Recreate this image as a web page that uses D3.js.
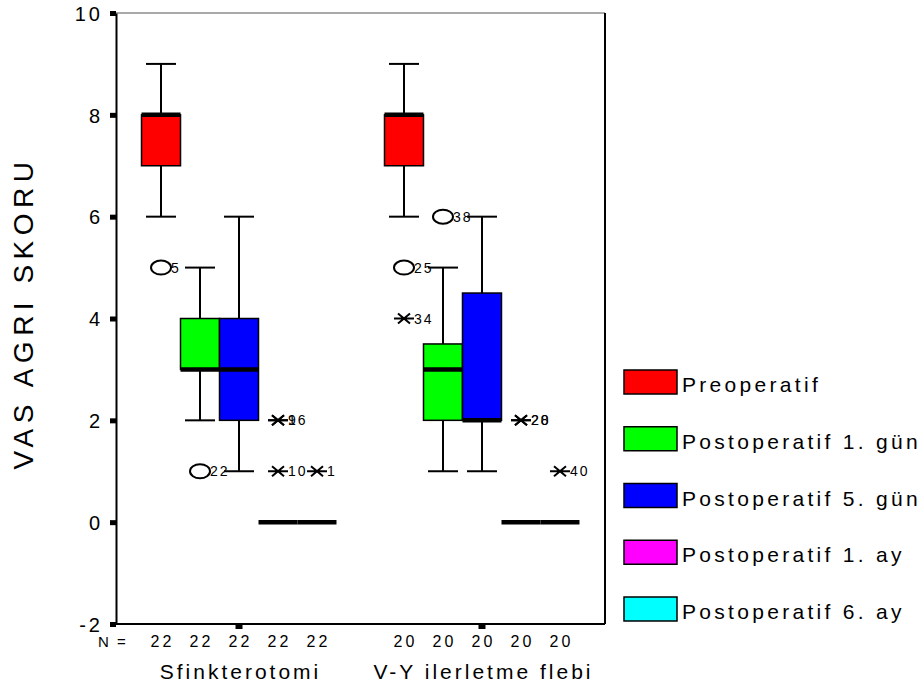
<!DOCTYPE html>
<html>
<head>
<meta charset="utf-8">
<script src="https://cdn.jsdelivr.net/npm/d3@7"></script>
<style>
  body { margin: 0; background: #fff; }
  text { font-family: "Liberation Sans", Arial, sans-serif; fill: #000; }
</style>
</head>
<body>
<div id="chart"></div>
<script>
/************************
 *  Data
 ************************/
const groups = ["Sfinkterotomi", "V-Y ilerletme flebi"];
const series = ["Preoperatif", "Postoperatif 1. gün", "Postoperatif 5. gün", "Postoperatif 1. ay", "Postoperatif 6. ay"];
const seriesColors = ["#ff0000", "#00ff00", "#0000ff", "#ff00ff", "#00ffff"];
const counts = [[22, 22, 22, 22, 22], [20, 20, 20, 20, 20]];

// [whisker low, Q1, median, Q3, whisker high] per series
const sfinkStats = [[6, 7, 8, 8, 9], [2, 3, 3, 4, 5], [1, 2, 3, 4, 6], [0, 0, 0, 0, 0], [0, 0, 0, 0, 0]];
const vyStats = [[6, 7, 8, 8, 9], [1, 2, 3, 3.5, 5], [1, 2, 2, 4.5, 6], [0, 0, 0, 0, 0], [0, 0, 0, 0, 0]];

// [group index, series index, value, kind (o = outlier, x = extreme), case label]
const outliers = [
  [0, 0, 5, "o", "5"],
  [0, 1, 1, "o", "22"],
  [0, 3, 2, "x", "9"],
  [0, 3, 2, "x", "16"],
  [0, 3, 1, "x", "10"],
  [0, 4, 1, "x", "1"],
  [1, 0, 5, "o", "25"],
  [1, 0, 4, "x", "34"],
  [1, 1, 6, "o", "38"],
  [1, 3, 2, "x", "20"],
  [1, 3, 2, "x", "28"],
  [1, 4, 1, "x", "40"]
];

const yTicks = [-2, 0, 2, 4, 6, 8, 10];

/************************
 *  Setup
 ************************/
const width = 924, height = 688;
const plot = { left: 116, right: 605, top: 13, bottom: 624 };

const svg = d3.select("#chart").append("svg")
  .attr("width", width)
  .attr("height", height);

const y = d3.scaleLinear().domain([-2, 10]).range([plot.bottom, plot.top]);

const xGroup = d3.scaleBand()
  .domain(groups)
  .range([plot.left, plot.right])
  .paddingInner(0.1975)
  .paddingOuter(0.105);

const xSeries = d3.scaleBand()
  .domain(d3.range(series.length))
  .range([0, xGroup.bandwidth()]);

const bw = xSeries.bandwidth();
const boxX = (g, s) => xGroup(groups[g]) + xSeries(s);
const boxCx = (g, s) => boxX(g, s) + bw / 2;

/************************
 *  Frame & axes
 ************************/
svg.append("line")
  .attr("x1", plot.left).attr("x2", plot.right)
  .attr("y1", plot.top).attr("y2", plot.top)
  .style("stroke", "#555").style("stroke-width", 1);
svg.append("line")
  .attr("x1", plot.right).attr("x2", plot.right)
  .attr("y1", plot.top).attr("y2", plot.bottom)
  .style("stroke", "#000").style("stroke-width", 2);
svg.append("line")
  .attr("x1", plot.left).attr("x2", plot.right)
  .attr("y1", plot.bottom).attr("y2", plot.bottom)
  .style("stroke", "#000").style("stroke-width", 2);

const yAxis = svg.append("g")
  .attr("transform", `translate(${plot.left},0)`)
  .call(d3.axisLeft(y)
    .tickValues(yTicks)
    .tickFormat(d => String(d))
    .tickSize(6)
    .tickSizeOuter(0)
    .tickPadding(7));
yAxis.select(".domain").style("stroke-width", 2);
yAxis.selectAll(".tick line").style("stroke-width", 5);
yAxis.selectAll(".tick text")
  .style("font-size", "20px")
  .style("letter-spacing", "3px")
  .attr("dy", "0.36em");

const xAxis = svg.append("g")
  .attr("transform", `translate(0,${plot.bottom})`)
  .call(d3.axisBottom(xGroup).tickSize(5).tickSizeOuter(0).tickFormat(""));
xAxis.select(".domain").remove();
xAxis.selectAll(".tick line").style("stroke-width", 7);

// group labels
svg.selectAll(".group-label")
  .data(groups)
  .enter()
  .append("text")
  .attr("class", "group-label")
  .attr("x", d => xGroup(d) + xGroup.bandwidth() / 2)
  .attr("dx", 1.5)
  .attr("y", 679)
  .style("text-anchor", "middle")
  .style("font-size", "21px")
  .style("letter-spacing", "3px")
  .text(d => d);

// N = row
svg.append("text")
  .attr("x", 98).attr("y", 647)
  .style("font-size", "15px")
  .style("letter-spacing", "2px")
  .text("N =");

counts.forEach((row, g) => {
  svg.selectAll(".n-label-" + g)
    .data(row)
    .enter()
    .append("text")
    .attr("class", "n-label-" + g)
    .attr("x", (d, s) => boxCx(g, s))
    .attr("dx", 1.5)
    .attr("y", 647)
    .style("text-anchor", "middle")
    .style("font-size", "16px")
    .style("letter-spacing", "3px")
    .text(d => d);
});

// y axis title
svg.append("text")
  .attr("transform", `translate(33,313) rotate(-90)`)
  .style("text-anchor", "middle")
  .style("font-size", "28px")
  .style("letter-spacing", "5.5px")
  .text("VAS AGRI SKORU");

/************************
 *  Boxes
 ************************/
const capW = 30;

function draw_boxes(stats, g) {
  stats.forEach((d, s) => {
    const [lo, q1, med, q3, hi] = d;
    const cx = boxCx(g, s);
    const gBox = svg.append("g");

    // whiskers
    gBox.append("line")
      .attr("x1", cx).attr("x2", cx)
      .attr("y1", y(q3)).attr("y2", y(hi))
      .style("stroke", "#000").style("stroke-width", 2);
    gBox.append("line")
      .attr("x1", cx).attr("x2", cx)
      .attr("y1", y(q1)).attr("y2", y(lo))
      .style("stroke", "#000").style("stroke-width", 2);
    [lo, hi].forEach(v => {
      gBox.append("line")
        .attr("x1", cx - capW / 2).attr("x2", cx + capW / 2)
        .attr("y1", y(v)).attr("y2", y(v))
        .style("stroke", "#000").style("stroke-width", 2);
    });

    // box
    if (q3 > q1) {
      gBox.append("rect")
        .attr("x", boxX(g, s))
        .attr("y", y(q3))
        .attr("width", bw)
        .attr("height", y(q1) - y(q3))
        .style("fill", seriesColors[s])
        .style("stroke", "#000")
        .style("stroke-width", 1.5);
    }

    // median
    gBox.append("line")
      .attr("x1", boxX(g, s)).attr("x2", boxX(g, s) + bw)
      .attr("y1", y(med)).attr("y2", y(med))
      .style("stroke", "#000").style("stroke-width", 4.5);
  });
}

draw_boxes(sfinkStats, 0);
draw_boxes(vyStats, 1);

/************************
 *  Outliers & extremes
 ************************/
outliers.forEach(([g, s, v, kind, label]) => {
  const cx = boxCx(g, s);
  const cy = y(v);
  if (kind === "o") {
    svg.append("ellipse")
      .attr("cx", cx).attr("cy", cy)
      .attr("rx", 10).attr("ry", 7)
      .style("fill", "none")
      .style("stroke", "#000")
      .style("stroke-width", 2);
  } else {
    svg.append("path")
      .attr("d", `M${cx - 6},${cy - 5}L${cx + 6},${cy + 5}M${cx - 6},${cy + 5}L${cx + 6},${cy - 5}M${cx - 10},${cy}L${cx + 10},${cy}`)
      .style("fill", "none")
      .style("stroke", "#000")
      .style("stroke-width", 2);
  }
  svg.append("text")
    .attr("x", cx + 10)
    .attr("y", cy)
    .attr("dy", "0.36em")
    .style("font-size", "14px")
    .style("letter-spacing", "2px")
    .text(label);
});

/************************
 *  Legend
 ************************/
const legend = svg.selectAll(".legend-item")
  .data(series)
  .enter()
  .append("g")
  .attr("class", "legend-item")
  .attr("transform", (d, i) => `translate(624,${370 + i * 56.75})`);

legend.append("rect")
  .attr("width", 53)
  .attr("height", 24)
  .style("fill", (d, i) => seriesColors[i])
  .style("stroke", "#000")
  .style("stroke-width", 1.5);

legend.append("text")
  .attr("x", 58)
  .attr("y", 22)
  .style("font-size", "21px")
  .style("letter-spacing", "3.3px")
  .text(d => d);
</script>
</body>
</html>
